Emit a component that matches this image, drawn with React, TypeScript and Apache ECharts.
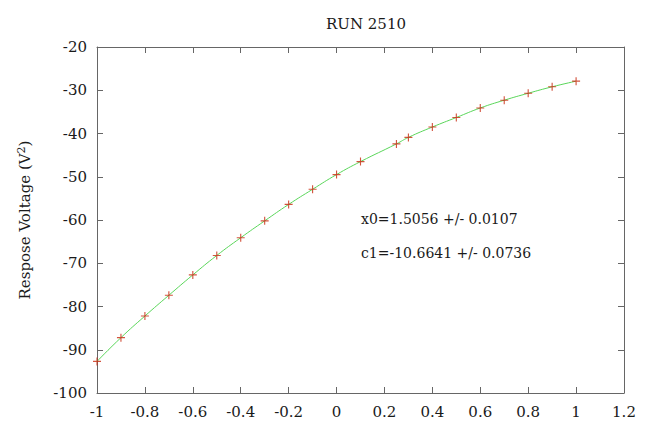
import React, { useEffect, useRef } from "react";
import * as echarts from "echarts";

const titleText = "RUN 2510";
const yAxisName = "Respose Voltage (V{sup|2})";
const fitLines = ["x0=1.5056 +/- 0.0107", "c1=-10.6641 +/- 0.0736"];
const xValues = [-1, -0.9, -0.8, -0.7, -0.6, -0.5, -0.4, -0.3, -0.2, -0.1, 0, 0.1, 0.25, 0.3, 0.4, 0.5, 0.6, 0.7, 0.8, 0.9, 1.0];
const yValues = [-92.7, -87.2, -82.2, -77.4, -72.7, -68.2, -64.1, -60.2, -56.4, -52.9, -49.5, -46.5, -42.4, -40.9, -38.5, -36.3, -34.1, -32.3, -30.7, -29.2, -27.9];
const xRange = [-1, 1.2];
const yRange = [-100, -20];

const FONT = "DejaVu Serif";
const AXIS = "#666";
const TXT = "#1a1a1a";
const PLUS = "path://M4.3,0H5.7V4.3H10V5.7H5.7V10H4.3V5.7H0V4.3H4.3Z";

export default function App() {
  const ref = useRef<HTMLDivElement>(null);
  useEffect(() => {
    if (!ref.current) return;
    const chart = echarts.init(ref.current, null, { renderer: "svg" });
    const pts = xValues.map((x, i) => [x, yValues[i]]);
    const commonX = {
      type: "value" as const,
      min: xRange[0],
      max: xRange[1],
      interval: 0.2,
      splitLine: { show: false },
      axisLine: { show: true, onZero: false, lineStyle: { color: AXIS, width: 1 } },
      axisTick: { show: true, inside: true, length: 6, lineStyle: { color: AXIS } },
    };
    const commonY = {
      type: "value" as const,
      min: yRange[0],
      max: yRange[1],
      interval: 10,
      splitLine: { show: false },
      axisLine: { show: true, onZero: false, lineStyle: { color: AXIS, width: 1 } },
      axisTick: { show: true, inside: true, length: 6, lineStyle: { color: AXIS } },
    };
    chart.setOption({
      animation: false,
      backgroundColor: "#fff",
      title: {
        text: titleText,
        left: 361,
        top: 11,
        textAlign: "center",
        textStyle: { fontFamily: FONT, fontSize: 15, fontWeight: "normal", color: TXT },
      },
      grid: { left: 97, right: 26, top: 47, bottom: 28 },
      xAxis: [
        {
          ...commonX,
          position: "bottom",
          axisLabel: {
            fontFamily: FONT,
            fontSize: 15,
            color: TXT,
            margin: 11,
            formatter: (v: number) => String(Math.round(v * 10) / 10),
          },
        },
        { ...commonX, position: "top", axisLabel: { show: false } },
      ],
      yAxis: [
        {
          ...commonY,
          position: "left",
          name: yAxisName,
          nameLocation: "middle",
          nameRotate: 90,
          nameGap: 63,
          nameTextStyle: {
            fontFamily: FONT,
            fontSize: 15,
            color: TXT,
            rich: {
              sup: { fontFamily: FONT, fontSize: 11, color: TXT, verticalAlign: "top", padding: [0, 0, 7, 0] },
            },
          },
          axisLabel: { fontFamily: FONT, fontSize: 15, color: TXT, margin: 10 },
        },
        { ...commonY, position: "right", axisLabel: { show: false } },
      ],
      graphic: fitLines.map((t, i) => ({
        type: "text",
        left: 361,
        top: 212 + i * 34,
        style: { text: t, fontFamily: FONT, fontSize: 14, fill: TXT },
      })),
      series: [
        {
          type: "line",
          data: pts,
          smooth: true,
          showSymbol: false,
          lineStyle: { color: "#5ad65a", width: 1 },
          z: 2,
        },
        {
          type: "scatter",
          data: pts,
          symbol: PLUS,
          symbolSize: 8,
          itemStyle: { color: "#c8280e" },
          z: 3,
        },
      ],
    });
    return () => chart.dispose();
  }, []);
  return <div ref={ref} style={{ position: "fixed", left: 0, top: 0, width: 650, height: 421 }} />;
}
